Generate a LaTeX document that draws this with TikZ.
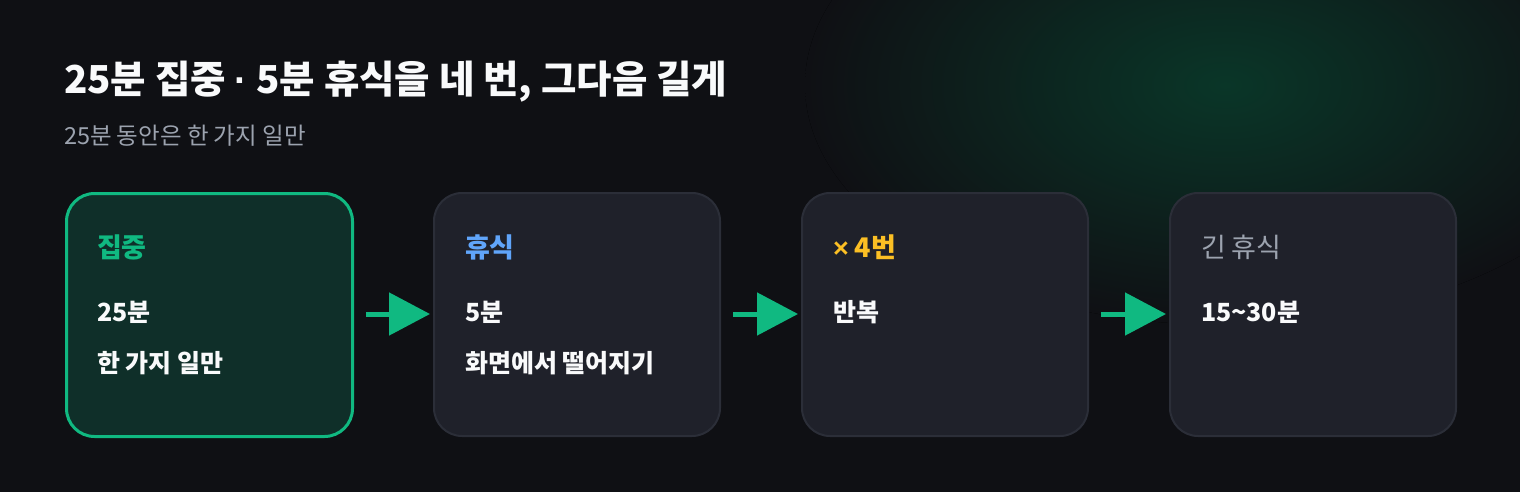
\documentclass[tikz,border=0pt]{standalone}
\usepackage{fontspec}
\setmainfont{Noto Sans CJK KR}
\newfontfamily\latsym{Liberation Sans}
\usetikzlibrary{arrows.meta}
\definecolor{bg}{HTML}{0F1014}
\definecolor{glow}{HTML}{0A3628}
\definecolor{boxfill}{HTML}{1F212A}
\definecolor{boxline}{HTML}{2B2E38}
\definecolor{focusfill}{HTML}{0F2F29}
\definecolor{accgreen}{HTML}{10B981}
\definecolor{accblue}{HTML}{60A5FA}
\definecolor{accamber}{HTML}{FBBF24}
\definecolor{accgray}{HTML}{9CA3AF}
\definecolor{txt}{HTML}{F9FAFB}
\tikzset{
  stagebox/.style={draw=boxline, line width=2pt, fill=boxfill, rounded corners=28pt,
    minimum width=286pt, minimum height=243pt, inner sep=0pt, anchor=north west},
  focusbox/.style={stagebox, draw=accgreen, line width=3pt, fill=focusfill},
  txtnode/.style={anchor=base west, inner sep=0pt, outer sep=0pt},
  headtxt/.style={txtnode, font=\fontsize{27}{31}\selectfont\bfseries},
  bodytxt/.style={txtnode, text=txt, font=\fontsize{25}{29}\selectfont\bfseries},
  flow/.style={draw=accgreen, line width=5pt, shorten <=12pt, shorten >=3pt,
    -{Triangle[length=41pt,width=42pt]}},
}
\begin{document}
\begin{tikzpicture}[x=1pt,y=-1pt]
\useasboundingbox (0,0) rectangle (1520,492);
\fill[bg] (0,0) rectangle (1520,492);
\begin{scope}
\clip (0,0) rectangle (1520,492);
\fill[inner color=glow, outer color=bg, draw=none] (1225,85) ellipse [x radius=420, y radius=240];
\end{scope}
\node[txtnode, text=txt, font=\fontsize{38.5}{44}\selectfont\bfseries] (title) at (64,94) {25분 집중 {\latsym ·} 5분 휴식을 네 번, 그다음 길게};
\node[txtnode, text=accgray, font=\fontsize{23.5}{27}\selectfont] (sub) at (64,145) {25분 동안은 한 가지 일만};

\node[focusbox] (b1) at (65,192) {};
\node[stagebox] (b2) at (433,192) {};
\node[stagebox] (b3) at (801,192) {};
\node[stagebox] (b4) at (1169,192) {};

\node[headtxt, text=accgreen] (h1) at (97,257) {집중};
\node[bodytxt] (t1a) at (97,321) {25분};
\node[bodytxt] (t1b) at (97,372) {한 가지 일만};

\node[headtxt, text=accblue] (h2) at (465,257) {휴식};
\node[bodytxt] (t2a) at (465,321) {5분};
\node[bodytxt] (t2b) at (465,372) {화면에서 떨어지기};

\node[headtxt, text=accamber] (h3) at (833,257) {{\latsym\bfseries ×} 4번};
\node[bodytxt] (t3a) at (833,321) {반복};

\node[headtxt, text=accgray, font=\fontsize{27}{31}\selectfont] (h4) at (1201,257) {긴 휴식};
\node[bodytxt] (t4a) at (1201,321) {15\char"7E 30분};

\draw[flow] (b1.east |- 0,314) -- (b2.west |- 0,314);
\draw[flow] (b2.east |- 0,314) -- (b3.west |- 0,314);
\draw[flow] (b3.east |- 0,314) -- (b4.west |- 0,314);
\end{tikzpicture}
\end{document}
